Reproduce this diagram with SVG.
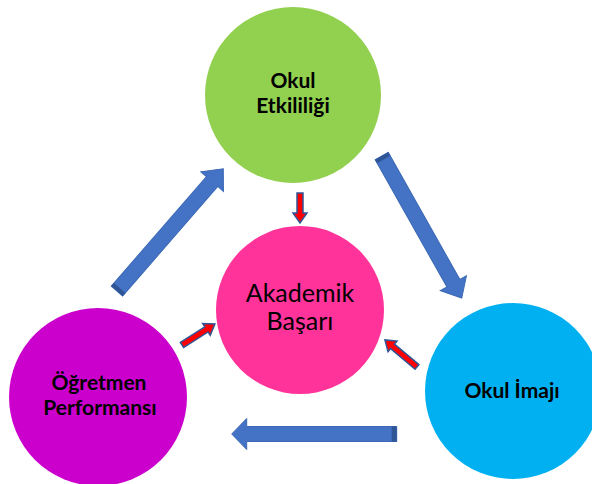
<svg xmlns="http://www.w3.org/2000/svg" width="592" height="484" viewBox="0 0 592 484">
<style>
.lbl{font-family:Lato,"Open Sans","Liberation Sans",sans-serif;font-weight:bold;font-size:21px;fill:#000;text-anchor:middle}
.lbl2{font-family:Lato,"Open Sans","Liberation Sans",sans-serif;font-weight:normal;font-size:25px;fill:#000;text-anchor:middle}
.big{fill:#4472C4;stroke:#3B68B5;stroke-width:1}
.face{fill:#2F5597}
.red{fill:#FF0000;stroke:#2F5597;stroke-width:1.5;stroke-linejoin:miter}
</style>
<rect width="592" height="484" fill="#fff"/>
<g id="node-okul-etkililigi">
<circle cx="293" cy="95" r="88" fill="#92D050"/>
<text class="lbl" x="293" y="88">Okul</text>
<text class="lbl" x="293" y="113">Etkililiği</text>
</g>
<g id="node-akademik-basari">
<circle cx="300" cy="310" r="84" fill="#FF3399"/>
<text class="lbl2" x="300" y="302">Akademik</text>
<text class="lbl2" x="300" y="330">Başarı</text>
</g>
<g id="node-ogretmen-performansi">
<circle cx="98" cy="397" r="89" fill="#CC00CC"/>
<text class="lbl" x="99" y="390">Öğretmen</text>
<text class="lbl" x="100" y="415">Performansı</text>
</g>
<g id="node-okul-imaji">
<circle cx="513" cy="391" r="88" fill="#00B0F0"/>
<text class="lbl" x="512" y="398">Okul İmajı</text>
</g>
<g id="connectors">
<g transform="translate(117,291) rotate(-49)">
<path class="big" d="M0,-7.5 L145,-7.5 L145,-15 L162,0 L145,15 L145,7.5 L0,7.5 Z"/>
<rect class="face" x="0" y="-7.5" width="4" height="15"/>
</g>
<g transform="translate(381.7,156) rotate(60.6)">
<path class="big" d="M0,-7.5 L146,-7.5 L146,-15 L163,0 L146,15 L146,7.5 L0,7.5 Z"/>
<rect class="face" x="0" y="-7.5" width="4" height="15"/>
</g>
<g transform="translate(396.7,434) rotate(180)">
<path class="big" d="M0,-7.5 L150,-7.5 L150,-15.5 L165,0 L150,15.5 L150,7.5 L0,7.5 Z"/>
<rect class="face" x="0" y="-7.5" width="5" height="15"/>
</g>
<path class="red" transform="translate(300,193) rotate(90)" d="M0,-3 L20,-3 L20,-7 L30,0 L20,7 L20,3 L0,3 Z"/>
<path class="red" transform="translate(182,345) rotate(-32.5)" d="M0,-3 L29,-3 L29,-7 L39,0 L29,7 L29,3 L0,3 Z"/>
<path class="red" transform="translate(417,367) rotate(220.2)" d="M0,-3 L32,-3 L32,-7 L42,0 L32,7 L32,3 L0,3 Z"/>
</g>
</svg>
